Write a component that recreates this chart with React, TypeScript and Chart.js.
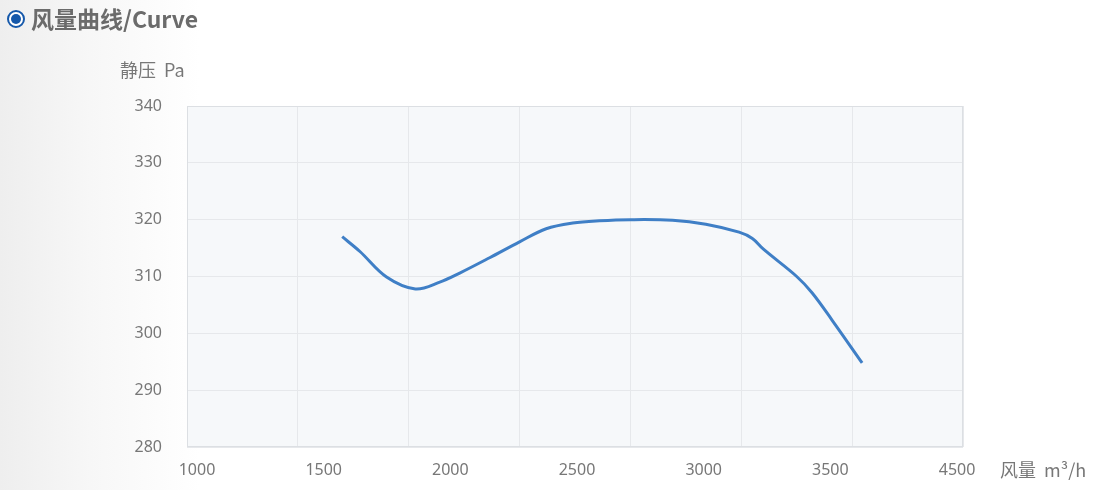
import React, { useEffect, useRef } from "react";
import { Chart, registerables } from "chart.js";

Chart.register(...registerables);

const flowValues = [1700, 1780, 1900, 2030, 2140, 2230, 2365, 2500, 2620, 2740, 2860, 3000, 3190, 3340, 3490, 3550, 3600, 3750, 3820, 3910, 4045];
const pressureValues = [317, 314.4, 309.9, 307.8, 309.0, 310.6, 313.3, 316.1, 318.4, 319.4, 319.8, 320.0, 319.9, 319.2, 317.8, 316.7, 314.8, 310.0, 307.1, 302.3, 294.8];
const xTickLabels = ["1000", "1500", "2000", "2500", "3000", "3500", "4500"];
const yTicks = [280, 290, 300, 310, 320, 330, 340];

const TITLE = "风量曲线/Curve";
const Y_NAME = "静压  Pa";
const X_NAME = "风量  m³/h";

const FONT = "'Noto Sans CJK SC', 'Noto Sans', sans-serif";
const TICK_FONT = "'Noto Sans', 'Noto Sans CJK SC', sans-serif";
const TEXT_COLOR = "#777777";

const plotBg = {
  id: "plotBg",
  beforeDraw(chart: any) {
    const { ctx, chartArea } = chart;
    if (!chartArea) return;
    ctx.save();
    ctx.fillStyle = "#f6f8fa";
    ctx.fillRect(chartArea.left, chartArea.top, chartArea.right - chartArea.left, chartArea.bottom - chartArea.top);
    ctx.restore();
  },
  beforeDatasetsDraw(chart: any) {
    const { ctx, chartArea } = chart;
    ctx.save();
    ctx.strokeStyle = "#dcdfe3";
    ctx.lineWidth = 1;
    ctx.strokeRect(chartArea.left + 0.5, chartArea.top + 0.5, chartArea.right - chartArea.left - 1, chartArea.bottom - chartArea.top - 1);
    ctx.restore();
  },
};

export default function App() {
  const ref = useRef<HTMLCanvasElement | null>(null);

  useEffect(() => {
    if (!ref.current) return;
    const chart = new Chart(ref.current, {
      type: "line",
      data: {
        datasets: [
          {
            data: flowValues.map((x, i) => ({ x, y: pressureValues[i] })),
            borderColor: "#3f7fc6",
            borderWidth: 3,
            pointRadius: 0,
            tension: 0.35,
            fill: false,
          },
        ],
      },
      options: {
        responsive: false,
        animation: false,
        events: [],
        layout: { padding: { top: 106, right: 139, left: 0, bottom: 0 } },
        plugins: { legend: { display: false }, tooltip: { enabled: false } },
        scales: {
          x: {
            type: "linear",
            position: "bottom",
            min: 1000,
            max: 4500,
            ticks: { display: false, stepSize: 500 },
            grid: { color: "#e6e8eb", drawTicks: false, lineWidth: 1 },
            border: { display: false },
            afterFit: (s: any) => {
              s.height = 0;
            },
          },
          xl: {
            type: "linear",
            position: "bottom",
            min: -0.079,
            max: 6.047,
            afterBuildTicks: (s: any) => {
              s.ticks = xTickLabels.map((_, i) => ({ value: i }));
            },
            ticks: {
              autoSkip: false,
              maxRotation: 0,
              padding: 14,
              color: TEXT_COLOR,
              font: { family: TICK_FONT, size: 16 },
              callback: (v: any) => xTickLabels[Math.round(v)] ?? "",
            },
            grid: { display: false, drawTicks: false },
            border: { display: false },
            afterFit: (s: any) => {
              s.height = 43;
            },
          },
          y: {
            type: "linear",
            min: 280,
            max: 340,
            afterBuildTicks: (s: any) => {
              s.ticks = yTicks.map((v) => ({ value: v }));
            },
            ticks: {
              padding: 25,
              color: TEXT_COLOR,
              font: { family: TICK_FONT, size: 16 },
            },
            grid: { color: "#e6e8eb", drawTicks: false },
            border: { display: false },
            afterFit: (s: any) => {
              s.width = 187;
            },
          },
        },
      },
      plugins: [plotBg],
    });
    return () => chart.destroy();
  }, []);

  return (
    <div
      style={{
        position: "fixed",
        left: 0,
        top: 0,
        width: 1102,
        height: 490,
        background: "linear-gradient(to right, #eeeeee 0px, #f7f7f7 90px, #ffffff 200px)",
        fontFamily: FONT,
        overflow: "hidden",
      }}
    >
      <canvas ref={ref} width={1102} height={490} style={{ position: "absolute", left: 0, top: 0 }} />
      <div
        style={{
          position: "absolute",
          left: 7,
          top: 10,
          width: 14,
          height: 14,
          borderRadius: "50%",
          border: "2px solid #1558aa",
          background: "#ffffff",
        }}
      >
        <div
          style={{
            position: "absolute",
            left: 2,
            top: 2,
            width: 10,
            height: 10,
            borderRadius: "50%",
            background: "#1558aa",
          }}
        />
      </div>
      <div
        style={{
          position: "absolute",
          left: 31,
          top: 3,
          fontSize: 23,
          lineHeight: "30px",
          fontWeight: 700,
          color: "#6b6b6b",
          whiteSpace: "pre",
        }}
      >
        {TITLE}
      </div>
      <div
        style={{
          position: "absolute",
          left: 120,
          top: 57,
          fontSize: 18,
          lineHeight: "24px",
          color: TEXT_COLOR,
          whiteSpace: "pre",
        }}
      >
        {Y_NAME}
      </div>
      <div
        style={{
          position: "absolute",
          left: 1000,
          top: 457,
          fontSize: 18,
          lineHeight: "24px",
          color: TEXT_COLOR,
          whiteSpace: "pre",
        }}
      >
        {X_NAME}
      </div>
    </div>
  );
}
